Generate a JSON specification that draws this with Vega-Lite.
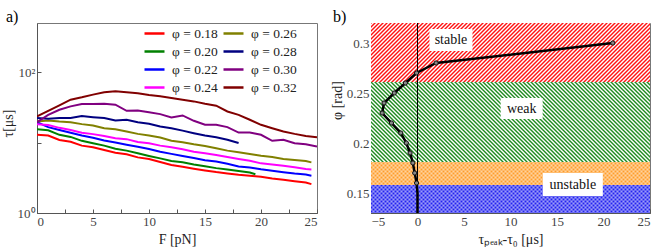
{
"$schema":"https://vega.github.io/schema/vega-lite/v6.json",
"padding":{"left":0,"top":8,"right":0,"bottom":0},
"spacing":54,
"bounds":"flush",
"config":{
"font":"Liberation Serif",
"view":{"stroke":"#777"},
"title":{"font":"Liberation Serif","fontSize":16,"fontWeight":"normal","color":"#000","anchor":"start","frame":"group","offset":-2},
"axis":{"grid":false,"domainColor":"#555","tickColor":"#555","tickSize":-4,"labelFont":"Liberation Serif","labelFontSize":13,"labelColor":"#444","titleFont":"Liberation Serif","titleFontSize":14,"titleFontWeight":"normal","titleColor":"#222","labelPadding":6}
},
"datasets":{
"curves":[
{"phi":"φ = 0.18","F":0,"tau":12.9},{"phi":"φ = 0.18","F":1,"tau":12.6},{"phi":"φ = 0.18","F":2,"tau":10.9},{"phi":"φ = 0.18","F":3,"tau":10.3},{"phi":"φ = 0.18","F":4,"tau":9.06},{"phi":"φ = 0.18","F":5,"tau":8.57},{"phi":"φ = 0.18","F":6,"tau":7.85},{"phi":"φ = 0.18","F":7,"tau":7.19},{"phi":"φ = 0.18","F":8,"tau":6.81},{"phi":"φ = 0.18","F":9,"tau":6.17},{"phi":"φ = 0.18","F":10,"tau":5.85},{"phi":"φ = 0.18","F":11,"tau":5.3},{"phi":"φ = 0.18","F":12,"tau":4.8},{"phi":"φ = 0.18","F":13,"tau":4.54},{"phi":"φ = 0.18","F":14,"tau":4.26},{"phi":"φ = 0.18","F":15,"tau":4.03},{"phi":"φ = 0.18","F":16,"tau":3.81},{"phi":"φ = 0.18","F":17,"tau":3.65},{"phi":"φ = 0.18","F":18,"tau":3.49},{"phi":"φ = 0.18","F":19,"tau":3.38},{"phi":"φ = 0.18","F":20,"tau":3.27},{"phi":"φ = 0.18","F":21,"tau":3.09},{"phi":"φ = 0.18","F":22,"tau":2.96},{"phi":"φ = 0.18","F":23,"tau":2.83},{"phi":"φ = 0.18","F":24,"tau":2.71},{"phi":"φ = 0.18","F":24.5,"tau":2.57},
{"phi":"φ = 0.20","F":0,"tau":15.5},{"phi":"φ = 0.20","F":1,"tau":15.0},{"phi":"φ = 0.20","F":2,"tau":12.9},{"phi":"φ = 0.20","F":3,"tau":12.05},{"phi":"φ = 0.20","F":4,"tau":10.6},{"phi":"φ = 0.20","F":5,"tau":9.77},{"phi":"φ = 0.20","F":6,"tau":9.06},{"phi":"φ = 0.20","F":7,"tau":8.2},{"phi":"φ = 0.20","F":8,"tau":7.69},{"phi":"φ = 0.20","F":9,"tau":7.05},{"phi":"φ = 0.20","F":10,"tau":6.46},{"phi":"φ = 0.20","F":11,"tau":5.97},{"phi":"φ = 0.20","F":12,"tau":5.47},{"phi":"φ = 0.20","F":13,"tau":5.25},{"phi":"φ = 0.20","F":14,"tau":4.9},{"phi":"φ = 0.20","F":15,"tau":4.62},{"phi":"φ = 0.20","F":16,"tau":4.34},{"phi":"φ = 0.20","F":17,"tau":4.14},{"phi":"φ = 0.20","F":18,"tau":3.94},{"phi":"φ = 0.20","F":19,"tau":3.76},{"phi":"φ = 0.20","F":19.5,"tau":3.56},
{"phi":"φ = 0.22","F":0,"tau":19.5},{"phi":"φ = 0.22","F":1,"tau":16.6},{"phi":"φ = 0.22","F":2,"tau":15.1},{"phi":"φ = 0.22","F":3,"tau":13.8},{"phi":"φ = 0.22","F":4,"tau":12.6},{"phi":"φ = 0.22","F":5,"tau":11.7},{"phi":"φ = 0.22","F":6,"tau":10.7},{"phi":"φ = 0.22","F":7,"tau":10.0},{"phi":"φ = 0.22","F":8,"tau":9.33},{"phi":"φ = 0.22","F":9,"tau":8.71},{"phi":"φ = 0.22","F":10,"tau":8.13},{"phi":"φ = 0.22","F":11,"tau":7.41},{"phi":"φ = 0.22","F":12,"tau":6.92},{"phi":"φ = 0.22","F":13,"tau":6.46},{"phi":"φ = 0.22","F":14,"tau":6.03},{"phi":"φ = 0.22","F":15,"tau":5.62},{"phi":"φ = 0.22","F":16,"tau":5.37},{"phi":"φ = 0.22","F":17,"tau":5.01},{"phi":"φ = 0.22","F":18,"tau":4.57},{"phi":"φ = 0.22","F":19,"tau":4.42},{"phi":"φ = 0.22","F":20,"tau":4.17},{"phi":"φ = 0.22","F":21,"tau":3.98},{"phi":"φ = 0.22","F":22,"tau":3.8},{"phi":"φ = 0.22","F":23,"tau":3.63},{"phi":"φ = 0.22","F":24,"tau":3.51},{"phi":"φ = 0.22","F":24.5,"tau":3.39},
{"phi":"φ = 0.24","F":0,"tau":18.2},{"phi":"φ = 0.24","F":1,"tau":17.8},{"phi":"φ = 0.24","F":2,"tau":16.2},{"phi":"φ = 0.24","F":3,"tau":15.1},{"phi":"φ = 0.24","F":4,"tau":13.8},{"phi":"φ = 0.24","F":5,"tau":13.2},{"phi":"φ = 0.24","F":6,"tau":12.4},{"phi":"φ = 0.24","F":7,"tau":11.5},{"phi":"φ = 0.24","F":8,"tau":11.2},{"phi":"φ = 0.24","F":9,"tau":10.2},{"phi":"φ = 0.24","F":10,"tau":9.77},{"phi":"φ = 0.24","F":11,"tau":9.06},{"phi":"φ = 0.24","F":12,"tau":8.57},{"phi":"φ = 0.24","F":13,"tau":8.04},{"phi":"φ = 0.24","F":14,"tau":7.43},{"phi":"φ = 0.24","F":15,"tau":7.05},{"phi":"φ = 0.24","F":16,"tau":6.67},{"phi":"φ = 0.24","F":17,"tau":6.24},{"phi":"φ = 0.24","F":18,"tau":5.85},{"phi":"φ = 0.24","F":19,"tau":5.53},{"phi":"φ = 0.24","F":20,"tau":5.07},{"phi":"φ = 0.24","F":21,"tau":4.9},{"phi":"φ = 0.24","F":22,"tau":4.69},{"phi":"φ = 0.24","F":23,"tau":4.45},{"phi":"φ = 0.24","F":24,"tau":4.21},{"phi":"φ = 0.24","F":24.5,"tau":4.16},
{"phi":"φ = 0.26","F":0,"tau":19.95},{"phi":"φ = 0.26","F":1,"tau":20.6},{"phi":"φ = 0.26","F":2,"tau":19.95},{"phi":"φ = 0.26","F":3,"tau":19.5},{"phi":"φ = 0.26","F":4,"tau":18.3},{"phi":"φ = 0.26","F":5,"tau":17.5},{"phi":"φ = 0.26","F":6,"tau":16.0},{"phi":"φ = 0.26","F":7,"tau":15.5},{"phi":"φ = 0.26","F":8,"tau":14.4},{"phi":"φ = 0.26","F":9,"tau":13.3},{"phi":"φ = 0.26","F":10,"tau":12.6},{"phi":"φ = 0.26","F":11,"tau":11.8},{"phi":"φ = 0.26","F":12,"tau":10.6},{"phi":"φ = 0.26","F":13,"tau":10.1},{"phi":"φ = 0.26","F":14,"tau":9.46},{"phi":"φ = 0.26","F":15,"tau":8.95},{"phi":"φ = 0.26","F":16,"tau":8.3},{"phi":"φ = 0.26","F":17,"tau":7.69},{"phi":"φ = 0.26","F":18,"tau":7.28},{"phi":"φ = 0.26","F":19,"tau":6.89},{"phi":"φ = 0.26","F":20,"tau":6.52},{"phi":"φ = 0.26","F":21,"tau":6.24},{"phi":"φ = 0.26","F":22,"tau":5.85},{"phi":"φ = 0.26","F":23,"tau":5.65},{"phi":"φ = 0.26","F":24,"tau":5.47},{"phi":"φ = 0.26","F":24.5,"tau":5.24},
{"phi":"φ = 0.28","F":0,"tau":22.3},{"phi":"φ = 0.28","F":1,"tau":21.8},{"phi":"φ = 0.28","F":2,"tau":22.3},{"phi":"φ = 0.28","F":3,"tau":22.3},{"phi":"φ = 0.28","F":4,"tau":23.8},{"phi":"φ = 0.28","F":5,"tau":23.0},{"phi":"φ = 0.28","F":6,"tau":22.3},{"phi":"φ = 0.28","F":7,"tau":20.6},{"phi":"φ = 0.28","F":8,"tau":21.1},{"phi":"φ = 0.28","F":9,"tau":19.5},{"phi":"φ = 0.28","F":10,"tau":18.5},{"phi":"φ = 0.28","F":11,"tau":16.9},{"phi":"φ = 0.28","F":12,"tau":16.0},{"phi":"φ = 0.28","F":13,"tau":14.8},{"phi":"φ = 0.28","F":14,"tau":13.6},{"phi":"φ = 0.28","F":15,"tau":12.6},{"phi":"φ = 0.28","F":16,"tau":11.9},{"phi":"φ = 0.28","F":17,"tau":11.0},{"phi":"φ = 0.28","F":18,"tau":9.89},
{"phi":"φ = 0.30","F":0,"tau":19.5},{"phi":"φ = 0.30","F":1,"tau":24.8},{"phi":"φ = 0.30","F":2,"tau":29.3},{"phi":"φ = 0.30","F":3,"tau":32.7},{"phi":"φ = 0.30","F":4,"tau":35.3},{"phi":"φ = 0.30","F":5,"tau":35.3},{"phi":"φ = 0.30","F":6,"tau":35.6},{"phi":"φ = 0.30","F":7,"tau":34.5},{"phi":"φ = 0.30","F":8,"tau":28.3},{"phi":"φ = 0.30","F":9,"tau":28.6},{"phi":"φ = 0.30","F":10,"tau":26.9},{"phi":"φ = 0.30","F":11,"tau":25.4},{"phi":"φ = 0.30","F":12,"tau":22.8},{"phi":"φ = 0.30","F":13,"tau":24.3},{"phi":"φ = 0.30","F":14,"tau":20.4},{"phi":"φ = 0.30","F":15,"tau":17.9},{"phi":"φ = 0.30","F":16,"tau":17.9},{"phi":"φ = 0.30","F":17,"tau":16.6},{"phi":"φ = 0.30","F":18,"tau":13.9},{"phi":"φ = 0.30","F":19,"tau":13.9},{"phi":"φ = 0.30","F":20,"tau":12.9},{"phi":"φ = 0.30","F":21,"tau":10.6},{"phi":"φ = 0.30","F":22,"tau":11.0},{"phi":"φ = 0.30","F":23,"tau":9.77},{"phi":"φ = 0.30","F":24,"tau":9.46},{"phi":"φ = 0.30","F":25,"tau":8.77},
{"phi":"φ = 0.32","F":0,"tau":23.5},{"phi":"φ = 0.32","F":1,"tau":28.3},{"phi":"φ = 0.32","F":2,"tau":33.8},{"phi":"φ = 0.32","F":3,"tau":40.7},{"phi":"φ = 0.32","F":4,"tau":44.0},{"phi":"φ = 0.32","F":5,"tau":48.0},{"phi":"φ = 0.32","F":6,"tau":51.8},{"phi":"φ = 0.32","F":7,"tau":53.6},{"phi":"φ = 0.32","F":8,"tau":51.8},{"phi":"φ = 0.32","F":9,"tau":50.1},{"phi":"φ = 0.32","F":10,"tau":47.4},{"phi":"φ = 0.32","F":11,"tau":45.4},{"phi":"φ = 0.32","F":12,"tau":43.0},{"phi":"φ = 0.32","F":13,"tau":40.7},{"phi":"φ = 0.32","F":14,"tau":38.5},{"phi":"φ = 0.32","F":15,"tau":35.6},{"phi":"φ = 0.32","F":16,"tau":33.4},{"phi":"φ = 0.32","F":17,"tau":27.7},{"phi":"φ = 0.32","F":18,"tau":24.8},{"phi":"φ = 0.32","F":19,"tau":21.1},{"phi":"φ = 0.32","F":20,"tau":17.9},{"phi":"φ = 0.32","F":21,"tau":16.0},{"phi":"φ = 0.32","F":22,"tau":14.4},{"phi":"φ = 0.32","F":23,"tau":13.3},{"phi":"φ = 0.32","F":24,"tau":12.4},{"phi":"φ = 0.32","F":25,"tau":11.9}
],
"curve":[
{"phi":0.13,"dt":0},{"phi":0.15,"dt":0},{"phi":0.16,"dt":-0.1},{"phi":0.17,"dt":-0.3},{"phi":0.18,"dt":-0.5},{"phi":0.19,"dt":-0.8},{"phi":0.2,"dt":-1.2},{"phi":0.21,"dt":-1.8},{"phi":0.22,"dt":-2.8},{"phi":0.23,"dt":-3.8},{"phi":0.24,"dt":-3.6},{"phi":0.25,"dt":-2.5},{"phi":0.26,"dt":-1.3},{"phi":0.27,"dt":-0.1},{"phi":0.28,"dt":2.0},{"phi":0.3,"dt":21.0}
],
"bands":[
{"band":"stable","phi":0.261,"phi2":0.32},{"band":"weak","phi":0.181,"phi2":0.261},{"band":"orange","phi":0.158,"phi2":0.181},{"band":"blue","phi":0.13,"phi2":0.158}
],
"labels":[
{"label":"stable","dt":3.6,"phi":0.303},{"label":"weak","dt":11.2,"phi":0.2345},{"label":"unstable","dt":16.7,"phi":0.1585}
]
},
"hconcat":[
{
"width":280,"height":190,
"title":{"text":"a)","dx":-31},
"data":{"name":"curves"},
"mark":{"type":"line","strokeWidth":2,"clip":true},
"encoding":{
"x":{"field":"F","type":"quantitative","scale":{"domain":[0,25],"nice":false},"title":"F [pN]","axis":{"values":[0,2.5,5,7.5,10,12.5,15,17.5,20,22.5,25],"labelExpr":"datum.value % 5 === 0 ? datum.label : ''","titlePadding":4}},
"y":{"field":"tau","type":"quantitative","scale":{"type":"log","domain":[1,500],"nice":false},"title":"τ[μs]","axis":{"values":[1,10,100],"labelExpr":"datum.value == 1 ? '10⁰' : (datum.value == 100 ? '10²' : '')","titleX":-29,"titleY":100,"titleBaseline":"middle"}},
"color":{"field":"phi","type":"nominal","scale":{"domain":["φ = 0.18","φ = 0.20","φ = 0.22","φ = 0.24","φ = 0.26","φ = 0.28","φ = 0.30","φ = 0.32"],"range":["#ff0000","#008000","#0000ff","#ff00ff","#808000","#000080","#800080","#800000"]},
"legend":{"orient":"none","legendX":106,"legendY":-1,"columns":2,"title":null,"symbolType":"stroke","symbolStrokeWidth":2.5,"symbolSize":400,"labelFont":"Liberation Serif","labelFontSize":13.5,"labelColor":"#222","rowPadding":-1,"columnPadding":0,"labelOffset":6}}
}
},
{
"width":279,"height":190,
"title":{"text":"b)","dx":-38},
"layer":[
{"data":{"name":"bands"},"transform":[{"filter":"datum.band == 'stable'"}],
"mark":{"type":"rect","fill":{"gradient":"linear","x1":0,"y1":0,"x2":1.3723,"y2":0.2902,"stops":[{"offset":0,"color":"#f11"},{"offset":0.005,"color":"#fff"},{"offset":0.01,"color":"#f11"},{"offset":0.015,"color":"#fff"},{"offset":0.02,"color":"#f11"},{"offset":0.025,"color":"#fff"},{"offset":0.03,"color":"#f11"},{"offset":0.035,"color":"#fff"},{"offset":0.04,"color":"#f11"},{"offset":0.045,"color":"#fff"},{"offset":0.05,"color":"#f11"},{"offset":0.055,"color":"#fff"},{"offset":0.06,"color":"#f11"},{"offset":0.065,"color":"#fff"},{"offset":0.07,"color":"#f11"},{"offset":0.075,"color":"#fff"},{"offset":0.08,"color":"#f11"},{"offset":0.085,"color":"#fff"},{"offset":0.09,"color":"#f11"},{"offset":0.095,"color":"#fff"},{"offset":0.1,"color":"#f11"},{"offset":0.105,"color":"#fff"},{"offset":0.11,"color":"#f11"},{"offset":0.115,"color":"#fff"},{"offset":0.12,"color":"#f11"},{"offset":0.125,"color":"#fff"},{"offset":0.13,"color":"#f11"},{"offset":0.135,"color":"#fff"},{"offset":0.14,"color":"#f11"},{"offset":0.145,"color":"#fff"},{"offset":0.15,"color":"#f11"},{"offset":0.155,"color":"#fff"},{"offset":0.16,"color":"#f11"},{"offset":0.165,"color":"#fff"},{"offset":0.17,"color":"#f11"},{"offset":0.175,"color":"#fff"},{"offset":0.18,"color":"#f11"},{"offset":0.185,"color":"#fff"},{"offset":0.19,"color":"#f11"},{"offset":0.195,"color":"#fff"},{"offset":0.2,"color":"#f11"},{"offset":0.205,"color":"#fff"},{"offset":0.21,"color":"#f11"},{"offset":0.215,"color":"#fff"},{"offset":0.22,"color":"#f11"},{"offset":0.225,"color":"#fff"},{"offset":0.23,"color":"#f11"},{"offset":0.235,"color":"#fff"},{"offset":0.24,"color":"#f11"},{"offset":0.245,"color":"#fff"},{"offset":0.25,"color":"#f11"},{"offset":0.255,"color":"#fff"},{"offset":0.26,"color":"#f11"},{"offset":0.265,"color":"#fff"},{"offset":0.27,"color":"#f11"},{"offset":0.275,"color":"#fff"},{"offset":0.28,"color":"#f11"},{"offset":0.285,"color":"#fff"},{"offset":0.29,"color":"#f11"},{"offset":0.295,"color":"#fff"},{"offset":0.3,"color":"#f11"},{"offset":0.305,"color":"#fff"},{"offset":0.31,"color":"#f11"},{"offset":0.315,"color":"#fff"},{"offset":0.32,"color":"#f11"},{"offset":0.325,"color":"#fff"},{"offset":0.33,"color":"#f11"},{"offset":0.335,"color":"#fff"},{"offset":0.34,"color":"#f11"},{"offset":0.345,"color":"#fff"},{"offset":0.35,"color":"#f11"},{"offset":0.355,"color":"#fff"},{"offset":0.36,"color":"#f11"},{"offset":0.365,"color":"#fff"},{"offset":0.37,"color":"#f11"},{"offset":0.375,"color":"#fff"},{"offset":0.38,"color":"#f11"},{"offset":0.385,"color":"#fff"},{"offset":0.39,"color":"#f11"},{"offset":0.395,"color":"#fff"},{"offset":0.4,"color":"#f11"},{"offset":0.405,"color":"#fff"},{"offset":0.41,"color":"#f11"},{"offset":0.415,"color":"#fff"},{"offset":0.42,"color":"#f11"},{"offset":0.425,"color":"#fff"},{"offset":0.43,"color":"#f11"},{"offset":0.435,"color":"#fff"},{"offset":0.44,"color":"#f11"},{"offset":0.445,"color":"#fff"},{"offset":0.45,"color":"#f11"},{"offset":0.455,"color":"#fff"},{"offset":0.46,"color":"#f11"},{"offset":0.465,"color":"#fff"},{"offset":0.47,"color":"#f11"},{"offset":0.475,"color":"#fff"},{"offset":0.48,"color":"#f11"},{"offset":0.485,"color":"#fff"},{"offset":0.49,"color":"#f11"},{"offset":0.495,"color":"#fff"},{"offset":0.5,"color":"#f11"},{"offset":0.505,"color":"#fff"},{"offset":0.51,"color":"#f11"},{"offset":0.515,"color":"#fff"},{"offset":0.52,"color":"#f11"},{"offset":0.525,"color":"#fff"},{"offset":0.53,"color":"#f11"},{"offset":0.535,"color":"#fff"},{"offset":0.54,"color":"#f11"},{"offset":0.545,"color":"#fff"},{"offset":0.55,"color":"#f11"},{"offset":0.555,"color":"#fff"},{"offset":0.56,"color":"#f11"},{"offset":0.565,"color":"#fff"},{"offset":0.57,"color":"#f11"},{"offset":0.575,"color":"#fff"},{"offset":0.58,"color":"#f11"},{"offset":0.585,"color":"#fff"},{"offset":0.59,"color":"#f11"},{"offset":0.595,"color":"#fff"},{"offset":0.6,"color":"#f11"},{"offset":0.605,"color":"#fff"},{"offset":0.61,"color":"#f11"},{"offset":0.615,"color":"#fff"},{"offset":0.62,"color":"#f11"},{"offset":0.625,"color":"#fff"},{"offset":0.63,"color":"#f11"},{"offset":0.635,"color":"#fff"},{"offset":0.64,"color":"#f11"},{"offset":0.645,"color":"#fff"},{"offset":0.65,"color":"#f11"},{"offset":0.655,"color":"#fff"},{"offset":0.66,"color":"#f11"},{"offset":0.665,"color":"#fff"},{"offset":0.67,"color":"#f11"},{"offset":0.675,"color":"#fff"},{"offset":0.68,"color":"#f11"},{"offset":0.685,"color":"#fff"},{"offset":0.69,"color":"#f11"},{"offset":0.695,"color":"#fff"},{"offset":0.7,"color":"#f11"},{"offset":0.705,"color":"#fff"},{"offset":0.71,"color":"#f11"},{"offset":0.715,"color":"#fff"},{"offset":0.72,"color":"#f11"},{"offset":0.725,"color":"#fff"},{"offset":0.73,"color":"#f11"},{"offset":0.735,"color":"#fff"},{"offset":0.74,"color":"#f11"},{"offset":0.745,"color":"#fff"},{"offset":0.75,"color":"#f11"},{"offset":0.755,"color":"#fff"},{"offset":0.76,"color":"#f11"},{"offset":0.765,"color":"#fff"},{"offset":0.77,"color":"#f11"},{"offset":0.775,"color":"#fff"},{"offset":0.78,"color":"#f11"},{"offset":0.785,"color":"#fff"},{"offset":0.79,"color":"#f11"},{"offset":0.795,"color":"#fff"},{"offset":0.8,"color":"#f11"},{"offset":0.805,"color":"#fff"},{"offset":0.81,"color":"#f11"},{"offset":0.815,"color":"#fff"},{"offset":0.82,"color":"#f11"},{"offset":0.825,"color":"#fff"},{"offset":0.83,"color":"#f11"},{"offset":0.835,"color":"#fff"},{"offset":0.84,"color":"#f11"},{"offset":0.845,"color":"#fff"},{"offset":0.85,"color":"#f11"},{"offset":0.855,"color":"#fff"},{"offset":0.86,"color":"#f11"},{"offset":0.865,"color":"#fff"},{"offset":0.87,"color":"#f11"},{"offset":0.875,"color":"#fff"},{"offset":0.88,"color":"#f11"},{"offset":0.885,"color":"#fff"},{"offset":0.89,"color":"#f11"},{"offset":0.895,"color":"#fff"},{"offset":0.9,"color":"#f11"},{"offset":0.905,"color":"#fff"},{"offset":0.91,"color":"#f11"},{"offset":0.915,"color":"#fff"},{"offset":0.92,"color":"#f11"},{"offset":0.925,"color":"#fff"},{"offset":0.93,"color":"#f11"},{"offset":0.935,"color":"#fff"},{"offset":0.94,"color":"#f11"},{"offset":0.945,"color":"#fff"},{"offset":0.95,"color":"#f11"},{"offset":0.955,"color":"#fff"},{"offset":0.96,"color":"#f11"},{"offset":0.965,"color":"#fff"},{"offset":0.97,"color":"#f11"},{"offset":0.975,"color":"#fff"},{"offset":0.98,"color":"#f11"},{"offset":0.985,"color":"#fff"},{"offset":0.99,"color":"#f11"},{"offset":0.995,"color":"#fff"},{"offset":1,"color":"#f11"}]}},
"encoding":{"x":{"datum":-5,"type":"quantitative"},"x2":{"datum":25},"y":{"field":"phi","type":"quantitative","title":"φ [rad]"},"y2":{"field":"phi2"}}},
{"data":{"name":"bands"},"transform":[{"filter":"datum.band == 'weak'"}],
"mark":{"type":"rect","fill":{"gradient":"linear","x1":0,"y1":1,"x2":1.3248,"y2":0.6201,"stops":[{"offset":0,"color":"#1f8a1f"},{"offset":0.005,"color":"#fff"},{"offset":0.01,"color":"#1f8a1f"},{"offset":0.015,"color":"#fff"},{"offset":0.02,"color":"#1f8a1f"},{"offset":0.025,"color":"#fff"},{"offset":0.03,"color":"#1f8a1f"},{"offset":0.035,"color":"#fff"},{"offset":0.04,"color":"#1f8a1f"},{"offset":0.045,"color":"#fff"},{"offset":0.05,"color":"#1f8a1f"},{"offset":0.055,"color":"#fff"},{"offset":0.06,"color":"#1f8a1f"},{"offset":0.065,"color":"#fff"},{"offset":0.07,"color":"#1f8a1f"},{"offset":0.075,"color":"#fff"},{"offset":0.08,"color":"#1f8a1f"},{"offset":0.085,"color":"#fff"},{"offset":0.09,"color":"#1f8a1f"},{"offset":0.095,"color":"#fff"},{"offset":0.1,"color":"#1f8a1f"},{"offset":0.105,"color":"#fff"},{"offset":0.11,"color":"#1f8a1f"},{"offset":0.115,"color":"#fff"},{"offset":0.12,"color":"#1f8a1f"},{"offset":0.125,"color":"#fff"},{"offset":0.13,"color":"#1f8a1f"},{"offset":0.135,"color":"#fff"},{"offset":0.14,"color":"#1f8a1f"},{"offset":0.145,"color":"#fff"},{"offset":0.15,"color":"#1f8a1f"},{"offset":0.155,"color":"#fff"},{"offset":0.16,"color":"#1f8a1f"},{"offset":0.165,"color":"#fff"},{"offset":0.17,"color":"#1f8a1f"},{"offset":0.175,"color":"#fff"},{"offset":0.18,"color":"#1f8a1f"},{"offset":0.185,"color":"#fff"},{"offset":0.19,"color":"#1f8a1f"},{"offset":0.195,"color":"#fff"},{"offset":0.2,"color":"#1f8a1f"},{"offset":0.205,"color":"#fff"},{"offset":0.21,"color":"#1f8a1f"},{"offset":0.215,"color":"#fff"},{"offset":0.22,"color":"#1f8a1f"},{"offset":0.225,"color":"#fff"},{"offset":0.23,"color":"#1f8a1f"},{"offset":0.235,"color":"#fff"},{"offset":0.24,"color":"#1f8a1f"},{"offset":0.245,"color":"#fff"},{"offset":0.25,"color":"#1f8a1f"},{"offset":0.255,"color":"#fff"},{"offset":0.26,"color":"#1f8a1f"},{"offset":0.265,"color":"#fff"},{"offset":0.27,"color":"#1f8a1f"},{"offset":0.275,"color":"#fff"},{"offset":0.28,"color":"#1f8a1f"},{"offset":0.285,"color":"#fff"},{"offset":0.29,"color":"#1f8a1f"},{"offset":0.295,"color":"#fff"},{"offset":0.3,"color":"#1f8a1f"},{"offset":0.305,"color":"#fff"},{"offset":0.31,"color":"#1f8a1f"},{"offset":0.315,"color":"#fff"},{"offset":0.32,"color":"#1f8a1f"},{"offset":0.325,"color":"#fff"},{"offset":0.33,"color":"#1f8a1f"},{"offset":0.335,"color":"#fff"},{"offset":0.34,"color":"#1f8a1f"},{"offset":0.345,"color":"#fff"},{"offset":0.35,"color":"#1f8a1f"},{"offset":0.355,"color":"#fff"},{"offset":0.36,"color":"#1f8a1f"},{"offset":0.365,"color":"#fff"},{"offset":0.37,"color":"#1f8a1f"},{"offset":0.375,"color":"#fff"},{"offset":0.38,"color":"#1f8a1f"},{"offset":0.385,"color":"#fff"},{"offset":0.39,"color":"#1f8a1f"},{"offset":0.395,"color":"#fff"},{"offset":0.4,"color":"#1f8a1f"},{"offset":0.405,"color":"#fff"},{"offset":0.41,"color":"#1f8a1f"},{"offset":0.415,"color":"#fff"},{"offset":0.42,"color":"#1f8a1f"},{"offset":0.425,"color":"#fff"},{"offset":0.43,"color":"#1f8a1f"},{"offset":0.435,"color":"#fff"},{"offset":0.44,"color":"#1f8a1f"},{"offset":0.445,"color":"#fff"},{"offset":0.45,"color":"#1f8a1f"},{"offset":0.455,"color":"#fff"},{"offset":0.46,"color":"#1f8a1f"},{"offset":0.465,"color":"#fff"},{"offset":0.47,"color":"#1f8a1f"},{"offset":0.475,"color":"#fff"},{"offset":0.48,"color":"#1f8a1f"},{"offset":0.485,"color":"#fff"},{"offset":0.49,"color":"#1f8a1f"},{"offset":0.495,"color":"#fff"},{"offset":0.5,"color":"#1f8a1f"},{"offset":0.505,"color":"#fff"},{"offset":0.51,"color":"#1f8a1f"},{"offset":0.515,"color":"#fff"},{"offset":0.52,"color":"#1f8a1f"},{"offset":0.525,"color":"#fff"},{"offset":0.53,"color":"#1f8a1f"},{"offset":0.535,"color":"#fff"},{"offset":0.54,"color":"#1f8a1f"},{"offset":0.545,"color":"#fff"},{"offset":0.55,"color":"#1f8a1f"},{"offset":0.555,"color":"#fff"},{"offset":0.56,"color":"#1f8a1f"},{"offset":0.565,"color":"#fff"},{"offset":0.57,"color":"#1f8a1f"},{"offset":0.575,"color":"#fff"},{"offset":0.58,"color":"#1f8a1f"},{"offset":0.585,"color":"#fff"},{"offset":0.59,"color":"#1f8a1f"},{"offset":0.595,"color":"#fff"},{"offset":0.6,"color":"#1f8a1f"},{"offset":0.605,"color":"#fff"},{"offset":0.61,"color":"#1f8a1f"},{"offset":0.615,"color":"#fff"},{"offset":0.62,"color":"#1f8a1f"},{"offset":0.625,"color":"#fff"},{"offset":0.63,"color":"#1f8a1f"},{"offset":0.635,"color":"#fff"},{"offset":0.64,"color":"#1f8a1f"},{"offset":0.645,"color":"#fff"},{"offset":0.65,"color":"#1f8a1f"},{"offset":0.655,"color":"#fff"},{"offset":0.66,"color":"#1f8a1f"},{"offset":0.665,"color":"#fff"},{"offset":0.67,"color":"#1f8a1f"},{"offset":0.675,"color":"#fff"},{"offset":0.68,"color":"#1f8a1f"},{"offset":0.685,"color":"#fff"},{"offset":0.69,"color":"#1f8a1f"},{"offset":0.695,"color":"#fff"},{"offset":0.7,"color":"#1f8a1f"},{"offset":0.705,"color":"#fff"},{"offset":0.71,"color":"#1f8a1f"},{"offset":0.715,"color":"#fff"},{"offset":0.72,"color":"#1f8a1f"},{"offset":0.725,"color":"#fff"},{"offset":0.73,"color":"#1f8a1f"},{"offset":0.735,"color":"#fff"},{"offset":0.74,"color":"#1f8a1f"},{"offset":0.745,"color":"#fff"},{"offset":0.75,"color":"#1f8a1f"},{"offset":0.755,"color":"#fff"},{"offset":0.76,"color":"#1f8a1f"},{"offset":0.765,"color":"#fff"},{"offset":0.77,"color":"#1f8a1f"},{"offset":0.775,"color":"#fff"},{"offset":0.78,"color":"#1f8a1f"},{"offset":0.785,"color":"#fff"},{"offset":0.79,"color":"#1f8a1f"},{"offset":0.795,"color":"#fff"},{"offset":0.8,"color":"#1f8a1f"},{"offset":0.805,"color":"#fff"},{"offset":0.81,"color":"#1f8a1f"},{"offset":0.815,"color":"#fff"},{"offset":0.82,"color":"#1f8a1f"},{"offset":0.825,"color":"#fff"},{"offset":0.83,"color":"#1f8a1f"},{"offset":0.835,"color":"#fff"},{"offset":0.84,"color":"#1f8a1f"},{"offset":0.845,"color":"#fff"},{"offset":0.85,"color":"#1f8a1f"},{"offset":0.855,"color":"#fff"},{"offset":0.86,"color":"#1f8a1f"},{"offset":0.865,"color":"#fff"},{"offset":0.87,"color":"#1f8a1f"},{"offset":0.875,"color":"#fff"},{"offset":0.88,"color":"#1f8a1f"},{"offset":0.885,"color":"#fff"},{"offset":0.89,"color":"#1f8a1f"},{"offset":0.895,"color":"#fff"},{"offset":0.9,"color":"#1f8a1f"},{"offset":0.905,"color":"#fff"},{"offset":0.91,"color":"#1f8a1f"},{"offset":0.915,"color":"#fff"},{"offset":0.92,"color":"#1f8a1f"},{"offset":0.925,"color":"#fff"},{"offset":0.93,"color":"#1f8a1f"},{"offset":0.935,"color":"#fff"},{"offset":0.94,"color":"#1f8a1f"},{"offset":0.945,"color":"#fff"},{"offset":0.95,"color":"#1f8a1f"},{"offset":0.955,"color":"#fff"},{"offset":0.96,"color":"#1f8a1f"},{"offset":0.965,"color":"#fff"},{"offset":0.97,"color":"#1f8a1f"},{"offset":0.975,"color":"#fff"},{"offset":0.98,"color":"#1f8a1f"},{"offset":0.985,"color":"#fff"},{"offset":0.99,"color":"#1f8a1f"},{"offset":0.995,"color":"#fff"},{"offset":1,"color":"#1f8a1f"}]}},
"encoding":{"x":{"datum":-5,"type":"quantitative"},"x2":{"datum":25},"y":{"field":"phi","type":"quantitative","title":"φ [rad]"},"y2":{"field":"phi2"}}},
{"data":{"name":"bands"},"transform":[{"filter":"datum.band == 'orange'"}],"mark":{"type":"rect","fill":"#ff9d2a"},
"encoding":{"x":{"datum":-5,"type":"quantitative"},"x2":{"datum":25},"y":{"field":"phi","type":"quantitative","title":"φ [rad]"},"y2":{"field":"phi2"}}},
{"data":{"name":"bands"},"transform":[{"filter":"datum.band == 'blue'"}],"mark":{"type":"rect","fill":"#2323f0"},
"encoding":{"x":{"datum":-5,"type":"quantitative"},"x2":{"datum":25},"y":{"field":"phi","type":"quantitative","title":"φ [rad]"},"y2":{"field":"phi2"}}},
{"data":{"values":[{}]},"mark":{"type":"rect","fill":{"gradient":"linear","x1":0,"y1":0,"x2":1.3873,"y2":0.2536,"stops":[{"offset":0,"color":"#fff5"},{"offset":0.005,"color":"#fff0"},{"offset":0.01,"color":"#fff5"},{"offset":0.015,"color":"#fff0"},{"offset":0.02,"color":"#fff5"},{"offset":0.025,"color":"#fff0"},{"offset":0.03,"color":"#fff5"},{"offset":0.035,"color":"#fff0"},{"offset":0.04,"color":"#fff5"},{"offset":0.045,"color":"#fff0"},{"offset":0.05,"color":"#fff5"},{"offset":0.055,"color":"#fff0"},{"offset":0.06,"color":"#fff5"},{"offset":0.065,"color":"#fff0"},{"offset":0.07,"color":"#fff5"},{"offset":0.075,"color":"#fff0"},{"offset":0.08,"color":"#fff5"},{"offset":0.085,"color":"#fff0"},{"offset":0.09,"color":"#fff5"},{"offset":0.095,"color":"#fff0"},{"offset":0.1,"color":"#fff5"},{"offset":0.105,"color":"#fff0"},{"offset":0.11,"color":"#fff5"},{"offset":0.115,"color":"#fff0"},{"offset":0.12,"color":"#fff5"},{"offset":0.125,"color":"#fff0"},{"offset":0.13,"color":"#fff5"},{"offset":0.135,"color":"#fff0"},{"offset":0.14,"color":"#fff5"},{"offset":0.145,"color":"#fff0"},{"offset":0.15,"color":"#fff5"},{"offset":0.155,"color":"#fff0"},{"offset":0.16,"color":"#fff5"},{"offset":0.165,"color":"#fff0"},{"offset":0.17,"color":"#fff5"},{"offset":0.175,"color":"#fff0"},{"offset":0.18,"color":"#fff5"},{"offset":0.185,"color":"#fff0"},{"offset":0.19,"color":"#fff5"},{"offset":0.195,"color":"#fff0"},{"offset":0.2,"color":"#fff5"},{"offset":0.205,"color":"#fff0"},{"offset":0.21,"color":"#fff5"},{"offset":0.215,"color":"#fff0"},{"offset":0.22,"color":"#fff5"},{"offset":0.225,"color":"#fff0"},{"offset":0.23,"color":"#fff5"},{"offset":0.235,"color":"#fff0"},{"offset":0.24,"color":"#fff5"},{"offset":0.245,"color":"#fff0"},{"offset":0.25,"color":"#fff5"},{"offset":0.255,"color":"#fff0"},{"offset":0.26,"color":"#fff5"},{"offset":0.265,"color":"#fff0"},{"offset":0.27,"color":"#fff5"},{"offset":0.275,"color":"#fff0"},{"offset":0.28,"color":"#fff5"},{"offset":0.285,"color":"#fff0"},{"offset":0.29,"color":"#fff5"},{"offset":0.295,"color":"#fff0"},{"offset":0.3,"color":"#fff5"},{"offset":0.305,"color":"#fff0"},{"offset":0.31,"color":"#fff5"},{"offset":0.315,"color":"#fff0"},{"offset":0.32,"color":"#fff5"},{"offset":0.325,"color":"#fff0"},{"offset":0.33,"color":"#fff5"},{"offset":0.335,"color":"#fff0"},{"offset":0.34,"color":"#fff5"},{"offset":0.345,"color":"#fff0"},{"offset":0.35,"color":"#fff5"},{"offset":0.355,"color":"#fff0"},{"offset":0.36,"color":"#fff5"},{"offset":0.365,"color":"#fff0"},{"offset":0.37,"color":"#fff5"},{"offset":0.375,"color":"#fff0"},{"offset":0.38,"color":"#fff5"},{"offset":0.385,"color":"#fff0"},{"offset":0.39,"color":"#fff5"},{"offset":0.395,"color":"#fff0"},{"offset":0.4,"color":"#fff5"},{"offset":0.405,"color":"#fff0"},{"offset":0.41,"color":"#fff5"},{"offset":0.415,"color":"#fff0"},{"offset":0.42,"color":"#fff5"},{"offset":0.425,"color":"#fff0"},{"offset":0.43,"color":"#fff5"},{"offset":0.435,"color":"#fff0"},{"offset":0.44,"color":"#fff5"},{"offset":0.445,"color":"#fff0"},{"offset":0.45,"color":"#fff5"},{"offset":0.455,"color":"#fff0"},{"offset":0.46,"color":"#fff5"},{"offset":0.465,"color":"#fff0"},{"offset":0.47,"color":"#fff5"},{"offset":0.475,"color":"#fff0"},{"offset":0.48,"color":"#fff5"},{"offset":0.485,"color":"#fff0"},{"offset":0.49,"color":"#fff5"},{"offset":0.495,"color":"#fff0"},{"offset":0.5,"color":"#fff5"},{"offset":0.505,"color":"#fff0"},{"offset":0.51,"color":"#fff5"},{"offset":0.515,"color":"#fff0"},{"offset":0.52,"color":"#fff5"},{"offset":0.525,"color":"#fff0"},{"offset":0.53,"color":"#fff5"},{"offset":0.535,"color":"#fff0"},{"offset":0.54,"color":"#fff5"},{"offset":0.545,"color":"#fff0"},{"offset":0.55,"color":"#fff5"},{"offset":0.555,"color":"#fff0"},{"offset":0.56,"color":"#fff5"},{"offset":0.565,"color":"#fff0"},{"offset":0.57,"color":"#fff5"},{"offset":0.575,"color":"#fff0"},{"offset":0.58,"color":"#fff5"},{"offset":0.585,"color":"#fff0"},{"offset":0.59,"color":"#fff5"},{"offset":0.595,"color":"#fff0"},{"offset":0.6,"color":"#fff5"},{"offset":0.605,"color":"#fff0"},{"offset":0.61,"color":"#fff5"},{"offset":0.615,"color":"#fff0"},{"offset":0.62,"color":"#fff5"},{"offset":0.625,"color":"#fff0"},{"offset":0.63,"color":"#fff5"},{"offset":0.635,"color":"#fff0"},{"offset":0.64,"color":"#fff5"},{"offset":0.645,"color":"#fff0"},{"offset":0.65,"color":"#fff5"},{"offset":0.655,"color":"#fff0"},{"offset":0.66,"color":"#fff5"},{"offset":0.665,"color":"#fff0"},{"offset":0.67,"color":"#fff5"},{"offset":0.675,"color":"#fff0"},{"offset":0.68,"color":"#fff5"},{"offset":0.685,"color":"#fff0"},{"offset":0.69,"color":"#fff5"},{"offset":0.695,"color":"#fff0"},{"offset":0.7,"color":"#fff5"},{"offset":0.705,"color":"#fff0"},{"offset":0.71,"color":"#fff5"},{"offset":0.715,"color":"#fff0"},{"offset":0.72,"color":"#fff5"},{"offset":0.725,"color":"#fff0"},{"offset":0.73,"color":"#fff5"},{"offset":0.735,"color":"#fff0"},{"offset":0.74,"color":"#fff5"},{"offset":0.745,"color":"#fff0"},{"offset":0.75,"color":"#fff5"},{"offset":0.755,"color":"#fff0"},{"offset":0.76,"color":"#fff5"},{"offset":0.765,"color":"#fff0"},{"offset":0.77,"color":"#fff5"},{"offset":0.775,"color":"#fff0"},{"offset":0.78,"color":"#fff5"},{"offset":0.785,"color":"#fff0"},{"offset":0.79,"color":"#fff5"},{"offset":0.795,"color":"#fff0"},{"offset":0.8,"color":"#fff5"},{"offset":0.805,"color":"#fff0"},{"offset":0.81,"color":"#fff5"},{"offset":0.815,"color":"#fff0"},{"offset":0.82,"color":"#fff5"},{"offset":0.825,"color":"#fff0"},{"offset":0.83,"color":"#fff5"},{"offset":0.835,"color":"#fff0"},{"offset":0.84,"color":"#fff5"},{"offset":0.845,"color":"#fff0"},{"offset":0.85,"color":"#fff5"},{"offset":0.855,"color":"#fff0"},{"offset":0.86,"color":"#fff5"},{"offset":0.865,"color":"#fff0"},{"offset":0.87,"color":"#fff5"},{"offset":0.875,"color":"#fff0"},{"offset":0.88,"color":"#fff5"},{"offset":0.885,"color":"#fff0"},{"offset":0.89,"color":"#fff5"},{"offset":0.895,"color":"#fff0"},{"offset":0.9,"color":"#fff5"},{"offset":0.905,"color":"#fff0"},{"offset":0.91,"color":"#fff5"},{"offset":0.915,"color":"#fff0"},{"offset":0.92,"color":"#fff5"},{"offset":0.925,"color":"#fff0"},{"offset":0.93,"color":"#fff5"},{"offset":0.935,"color":"#fff0"},{"offset":0.94,"color":"#fff5"},{"offset":0.945,"color":"#fff0"},{"offset":0.95,"color":"#fff5"},{"offset":0.955,"color":"#fff0"},{"offset":0.96,"color":"#fff5"},{"offset":0.965,"color":"#fff0"},{"offset":0.97,"color":"#fff5"},{"offset":0.975,"color":"#fff0"},{"offset":0.98,"color":"#fff5"},{"offset":0.985,"color":"#fff0"},{"offset":0.99,"color":"#fff5"},{"offset":0.995,"color":"#fff0"},{"offset":1,"color":"#fff5"}]}},
"encoding":{"x":{"datum":-5,"type":"quantitative"},"x2":{"datum":25},"y":{"datum":0.13,"type":"quantitative"},"y2":{"datum":0.181}}},
{"data":{"values":[{}]},"mark":{"type":"rect","fill":{"gradient":"linear","x1":0,"y1":1,"x2":1.3873,"y2":0.7464,"stops":[{"offset":0,"color":"#fff5"},{"offset":0.005,"color":"#fff0"},{"offset":0.01,"color":"#fff5"},{"offset":0.015,"color":"#fff0"},{"offset":0.02,"color":"#fff5"},{"offset":0.025,"color":"#fff0"},{"offset":0.03,"color":"#fff5"},{"offset":0.035,"color":"#fff0"},{"offset":0.04,"color":"#fff5"},{"offset":0.045,"color":"#fff0"},{"offset":0.05,"color":"#fff5"},{"offset":0.055,"color":"#fff0"},{"offset":0.06,"color":"#fff5"},{"offset":0.065,"color":"#fff0"},{"offset":0.07,"color":"#fff5"},{"offset":0.075,"color":"#fff0"},{"offset":0.08,"color":"#fff5"},{"offset":0.085,"color":"#fff0"},{"offset":0.09,"color":"#fff5"},{"offset":0.095,"color":"#fff0"},{"offset":0.1,"color":"#fff5"},{"offset":0.105,"color":"#fff0"},{"offset":0.11,"color":"#fff5"},{"offset":0.115,"color":"#fff0"},{"offset":0.12,"color":"#fff5"},{"offset":0.125,"color":"#fff0"},{"offset":0.13,"color":"#fff5"},{"offset":0.135,"color":"#fff0"},{"offset":0.14,"color":"#fff5"},{"offset":0.145,"color":"#fff0"},{"offset":0.15,"color":"#fff5"},{"offset":0.155,"color":"#fff0"},{"offset":0.16,"color":"#fff5"},{"offset":0.165,"color":"#fff0"},{"offset":0.17,"color":"#fff5"},{"offset":0.175,"color":"#fff0"},{"offset":0.18,"color":"#fff5"},{"offset":0.185,"color":"#fff0"},{"offset":0.19,"color":"#fff5"},{"offset":0.195,"color":"#fff0"},{"offset":0.2,"color":"#fff5"},{"offset":0.205,"color":"#fff0"},{"offset":0.21,"color":"#fff5"},{"offset":0.215,"color":"#fff0"},{"offset":0.22,"color":"#fff5"},{"offset":0.225,"color":"#fff0"},{"offset":0.23,"color":"#fff5"},{"offset":0.235,"color":"#fff0"},{"offset":0.24,"color":"#fff5"},{"offset":0.245,"color":"#fff0"},{"offset":0.25,"color":"#fff5"},{"offset":0.255,"color":"#fff0"},{"offset":0.26,"color":"#fff5"},{"offset":0.265,"color":"#fff0"},{"offset":0.27,"color":"#fff5"},{"offset":0.275,"color":"#fff0"},{"offset":0.28,"color":"#fff5"},{"offset":0.285,"color":"#fff0"},{"offset":0.29,"color":"#fff5"},{"offset":0.295,"color":"#fff0"},{"offset":0.3,"color":"#fff5"},{"offset":0.305,"color":"#fff0"},{"offset":0.31,"color":"#fff5"},{"offset":0.315,"color":"#fff0"},{"offset":0.32,"color":"#fff5"},{"offset":0.325,"color":"#fff0"},{"offset":0.33,"color":"#fff5"},{"offset":0.335,"color":"#fff0"},{"offset":0.34,"color":"#fff5"},{"offset":0.345,"color":"#fff0"},{"offset":0.35,"color":"#fff5"},{"offset":0.355,"color":"#fff0"},{"offset":0.36,"color":"#fff5"},{"offset":0.365,"color":"#fff0"},{"offset":0.37,"color":"#fff5"},{"offset":0.375,"color":"#fff0"},{"offset":0.38,"color":"#fff5"},{"offset":0.385,"color":"#fff0"},{"offset":0.39,"color":"#fff5"},{"offset":0.395,"color":"#fff0"},{"offset":0.4,"color":"#fff5"},{"offset":0.405,"color":"#fff0"},{"offset":0.41,"color":"#fff5"},{"offset":0.415,"color":"#fff0"},{"offset":0.42,"color":"#fff5"},{"offset":0.425,"color":"#fff0"},{"offset":0.43,"color":"#fff5"},{"offset":0.435,"color":"#fff0"},{"offset":0.44,"color":"#fff5"},{"offset":0.445,"color":"#fff0"},{"offset":0.45,"color":"#fff5"},{"offset":0.455,"color":"#fff0"},{"offset":0.46,"color":"#fff5"},{"offset":0.465,"color":"#fff0"},{"offset":0.47,"color":"#fff5"},{"offset":0.475,"color":"#fff0"},{"offset":0.48,"color":"#fff5"},{"offset":0.485,"color":"#fff0"},{"offset":0.49,"color":"#fff5"},{"offset":0.495,"color":"#fff0"},{"offset":0.5,"color":"#fff5"},{"offset":0.505,"color":"#fff0"},{"offset":0.51,"color":"#fff5"},{"offset":0.515,"color":"#fff0"},{"offset":0.52,"color":"#fff5"},{"offset":0.525,"color":"#fff0"},{"offset":0.53,"color":"#fff5"},{"offset":0.535,"color":"#fff0"},{"offset":0.54,"color":"#fff5"},{"offset":0.545,"color":"#fff0"},{"offset":0.55,"color":"#fff5"},{"offset":0.555,"color":"#fff0"},{"offset":0.56,"color":"#fff5"},{"offset":0.565,"color":"#fff0"},{"offset":0.57,"color":"#fff5"},{"offset":0.575,"color":"#fff0"},{"offset":0.58,"color":"#fff5"},{"offset":0.585,"color":"#fff0"},{"offset":0.59,"color":"#fff5"},{"offset":0.595,"color":"#fff0"},{"offset":0.6,"color":"#fff5"},{"offset":0.605,"color":"#fff0"},{"offset":0.61,"color":"#fff5"},{"offset":0.615,"color":"#fff0"},{"offset":0.62,"color":"#fff5"},{"offset":0.625,"color":"#fff0"},{"offset":0.63,"color":"#fff5"},{"offset":0.635,"color":"#fff0"},{"offset":0.64,"color":"#fff5"},{"offset":0.645,"color":"#fff0"},{"offset":0.65,"color":"#fff5"},{"offset":0.655,"color":"#fff0"},{"offset":0.66,"color":"#fff5"},{"offset":0.665,"color":"#fff0"},{"offset":0.67,"color":"#fff5"},{"offset":0.675,"color":"#fff0"},{"offset":0.68,"color":"#fff5"},{"offset":0.685,"color":"#fff0"},{"offset":0.69,"color":"#fff5"},{"offset":0.695,"color":"#fff0"},{"offset":0.7,"color":"#fff5"},{"offset":0.705,"color":"#fff0"},{"offset":0.71,"color":"#fff5"},{"offset":0.715,"color":"#fff0"},{"offset":0.72,"color":"#fff5"},{"offset":0.725,"color":"#fff0"},{"offset":0.73,"color":"#fff5"},{"offset":0.735,"color":"#fff0"},{"offset":0.74,"color":"#fff5"},{"offset":0.745,"color":"#fff0"},{"offset":0.75,"color":"#fff5"},{"offset":0.755,"color":"#fff0"},{"offset":0.76,"color":"#fff5"},{"offset":0.765,"color":"#fff0"},{"offset":0.77,"color":"#fff5"},{"offset":0.775,"color":"#fff0"},{"offset":0.78,"color":"#fff5"},{"offset":0.785,"color":"#fff0"},{"offset":0.79,"color":"#fff5"},{"offset":0.795,"color":"#fff0"},{"offset":0.8,"color":"#fff5"},{"offset":0.805,"color":"#fff0"},{"offset":0.81,"color":"#fff5"},{"offset":0.815,"color":"#fff0"},{"offset":0.82,"color":"#fff5"},{"offset":0.825,"color":"#fff0"},{"offset":0.83,"color":"#fff5"},{"offset":0.835,"color":"#fff0"},{"offset":0.84,"color":"#fff5"},{"offset":0.845,"color":"#fff0"},{"offset":0.85,"color":"#fff5"},{"offset":0.855,"color":"#fff0"},{"offset":0.86,"color":"#fff5"},{"offset":0.865,"color":"#fff0"},{"offset":0.87,"color":"#fff5"},{"offset":0.875,"color":"#fff0"},{"offset":0.88,"color":"#fff5"},{"offset":0.885,"color":"#fff0"},{"offset":0.89,"color":"#fff5"},{"offset":0.895,"color":"#fff0"},{"offset":0.9,"color":"#fff5"},{"offset":0.905,"color":"#fff0"},{"offset":0.91,"color":"#fff5"},{"offset":0.915,"color":"#fff0"},{"offset":0.92,"color":"#fff5"},{"offset":0.925,"color":"#fff0"},{"offset":0.93,"color":"#fff5"},{"offset":0.935,"color":"#fff0"},{"offset":0.94,"color":"#fff5"},{"offset":0.945,"color":"#fff0"},{"offset":0.95,"color":"#fff5"},{"offset":0.955,"color":"#fff0"},{"offset":0.96,"color":"#fff5"},{"offset":0.965,"color":"#fff0"},{"offset":0.97,"color":"#fff5"},{"offset":0.975,"color":"#fff0"},{"offset":0.98,"color":"#fff5"},{"offset":0.985,"color":"#fff0"},{"offset":0.99,"color":"#fff5"},{"offset":0.995,"color":"#fff0"},{"offset":1,"color":"#fff5"}]}},
"encoding":{"x":{"datum":-5,"type":"quantitative"},"x2":{"datum":25},"y":{"datum":0.13,"type":"quantitative"},"y2":{"datum":0.181}}},
{"data":{"values":[{}]},"mark":{"type":"rule","color":"#000","strokeWidth":1},"encoding":{"x":{"datum":0,"type":"quantitative"}}},
{"data":{"name":"curve"},"mark":{"type":"line","color":"#000","strokeWidth":2.5},"encoding":{
"x":{"field":"dt","type":"quantitative","scale":{"domain":[-5,25],"nice":false,"zero":false},"title":"τₚₑₐₖ-τ₀ [μs]","axis":{"values":[-5,-2.5,0,2.5,5,7.5,10,12.5,15,17.5,20,22.5,25],"labelExpr":"datum.value % 5 === 0 ? datum.label : ''","titlePadding":4}},
"y":{"field":"phi","type":"quantitative","scale":{"domain":[0.13,0.32],"nice":false,"zero":false},"title":"φ [rad]","axis":{"values":[0.15,0.175,0.2,0.225,0.25,0.275,0.3],"format":".2~f","labelExpr":"indexof([0.15,0.2,0.25,0.3], datum.value) >= 0 ? datum.label : ''","titleX":-34,"titleY":77,"titleBaseline":"middle"}},
"order":{"field":"phi","type":"quantitative"}}},
{"data":{"name":"curve"},"transform":[{"filter":"datum.phi >= 0.16"}],"mark":{"type":"point","filled":true,"fill":"#888","stroke":"#111","strokeWidth":1,"size":18,"opacity":1},
"encoding":{"x":{"field":"dt","type":"quantitative","title":"τₚₑₐₖ-τ₀ [μs]"},"y":{"field":"phi","type":"quantitative","title":"φ [rad]"}}},
{"data":{"name":"labels"},"mark":{"type":"point","filled":true,"color":"#fff","opacity":1,"size":625,"strokeWidth":0},
"encoding":{"x":{"field":"dt","type":"quantitative","title":"τₚₑₐₖ-τ₀ [μs]"},"y":{"field":"phi","type":"quantitative","title":"φ [rad]"},
"shape":{"field":"label","type":"nominal","scale":{"domain":["stable","weak","unstable"],"range":["M-1.72,-0.88H1.72V0.88H-1.72Z","M-1.68,-0.84H1.68V0.84H-1.68Z","M-2.4,-0.92H2.4V0.92H-2.4Z"]},"legend":null}}},
{"data":{"name":"labels"},"mark":{"type":"text","font":"Liberation Serif","fontSize":14,"color":"#111"},
"encoding":{"x":{"field":"dt","type":"quantitative","title":"τₚₑₐₖ-τ₀ [μs]"},"y":{"field":"phi","type":"quantitative","title":"φ [rad]"},"text":{"field":"label","type":"nominal"}}}
]
}
]
}
